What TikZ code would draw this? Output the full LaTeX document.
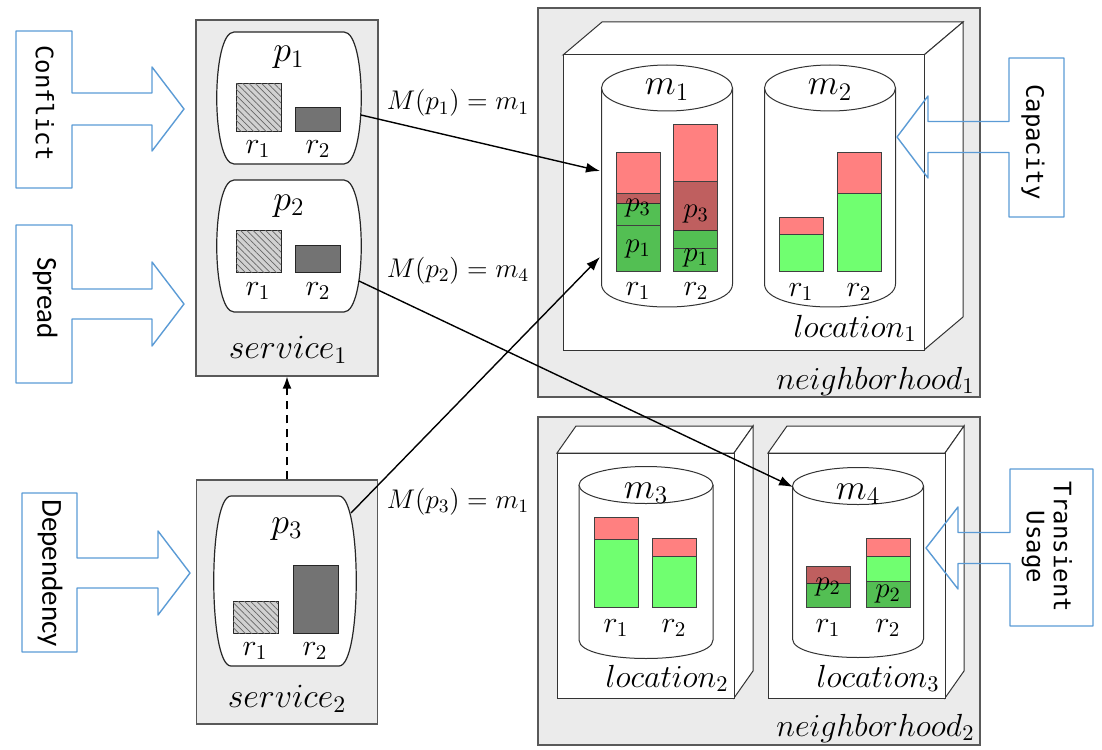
\documentclass[tikz,border=0pt]{standalone}
\usepackage{fix-cm}
\usepackage{fontspec}
\newfontfamily\hintmono{DejaVu Sans Mono}
\newfontfamily\hintsans{Carlito}
\usetikzlibrary{arrows.meta,patterns.meta}

\definecolor{hintblue}{RGB}{91,155,213}
\definecolor{freegreen}{RGB}{112,255,112}
\definecolor{sparered}{RGB}{255,128,128}

\tikzset{
  grpbox/.style={draw=black!65, fill=black!8, line width=0.6pt, inner sep=0pt},
  facebox/.style={draw=black!80, fill=white, line width=0.5pt},
  podbox/.style={draw=black!85, fill=white, line width=0.6pt},
  cylbody/.style={draw=black!80, fill=white, line width=0.5pt},
  hintbox/.style={draw=hintblue, line width=0.7pt, line join=round},
  monotext/.style={font=\hintmono\fontsize{12}{13.5}\selectfont, rotate=-90, align=center},
  sanstext/.style={font=\hintsans\fontsize{14.5}{16}\selectfont, rotate=-90},
  hatched/.style={fill=black!18, draw=black!85, line width=0.5pt,
    postaction={pattern={Lines[angle=-45,distance=2.2pt,line width=0.35pt]}, pattern color=black!60}},
  solidres/.style={fill=black!55, draw=black!85, line width=0.5pt},
  freepart/.style={fill=freegreen, draw=black!75, line width=0.5pt},
  sparepart/.style={fill=sparered, draw=black!75, line width=0.5pt},
  podpart/.style={fill=black, fill opacity=0.25, draw=black!75, draw opacity=1, line width=0.5pt},
  plabel/.style={font=\fontsize{18}{20}\selectfont, inner sep=0pt, anchor=base},
  mlabel/.style={font=\fontsize{18}{20}\selectfont, inner sep=0pt, anchor=base},
  rlabel/.style={font=\fontsize{15}{17}\selectfont, inner sep=0pt, anchor=base},
  inlabel/.style={font=\fontsize{14.5}{16}\selectfont, inner sep=0pt},
  svclabel/.style={font=\fontsize{17}{19}\selectfont, inner sep=0pt, anchor=base},
  loclabel/.style={font=\fontsize{16}{18}\selectfont, inner sep=0pt, anchor=base east},
  nblabel/.style={font=\fontsize{16}{18}\selectfont, inner sep=0pt, anchor=base east},
  maplabel/.style={font=\fontsize{13.5}{15}\selectfont, inner sep=0pt, anchor=base},
  map/.style={-{Latex[length=7pt,width=5pt]}, line width=0.7pt},
  dep/.style={-{Latex[length=6pt,width=4.5pt]}, line width=0.7pt, dash pattern=on 4pt off 3pt},
}

% box x0, box x1, box top, box bottom, tip y, shaft half, head half, head base x, tip x
\newcommand{\hintarrow}[9]{%
  \draw[hintbox] (#1,#3) -- (#2,#3) -- (#2,#5-#6) -- (#8,#5-#6) -- (#8,#5-#7) -- (#9,#5)
    -- (#8,#5+#7) -- (#8,#5+#6) -- (#2,#5+#6) -- (#2,#4) -- (#1,#4) -- cycle;}
% x0, x1, y0, y1
\newcommand{\podshape}[4]{%
  \draw[podbox] (#1+18,#3) -- (#2-18,#3) .. controls (#2+5,#3) and (#2+5,#4) .. (#2-18,#4)
    -- (#1+18,#4) .. controls (#1-5,#4) and (#1-5,#3) .. cycle;}
% front x0, y0, x1, y1, depth dx, dy
\newcommand{\locbox}[6]{%
  \draw[facebox] (#1,#2) -- (#1+#5,#2-#6) -- (#3+#5,#2-#6) -- (#3,#2) -- cycle;
  \draw[facebox] (#3,#2) -- (#3+#5,#2-#6) -- (#3+#5,#4-#6) -- (#3,#4) -- cycle;
  \draw[facebox] (#1,#2) rectangle (#3,#4);}
% centre x, x radius, top y, bottom y, y radius
\newcommand{\drawcyl}[5]{%
  \draw[cylbody] (#1-#2,#3) -- (#1-#2,#4) .. controls (#1-#2,#4+1.333*#5) and (#1+#2,#4+1.333*#5) .. (#1+#2,#4) -- (#1+#2,#3);
  \draw[cylbody] (#1,#3) ellipse [x radius=#2, y radius=#5];}
% x, spare top, split, bottom
\newcommand{\resbar}[4]{%
  \draw[sparepart] (#1,#2) rectangle (#1+44,#3);
  \draw[freepart] (#1,#3) rectangle (#1+44,#4);}
\newcommand{\podpart}[3]{\draw[podpart] (#1,#2) rectangle (#1+44,#3);}

\begin{document}
\begin{tikzpicture}[x=0.5pt, y=-0.5pt]
\useasboundingbox (0,0) rectangle (1102,749);

% services
\node[grpbox, minimum width=91pt, minimum height=178pt] (svc1) at (287,198) {};
\node[grpbox, minimum width=90.5pt, minimum height=122pt] (svc2) at (287,602) {};
\podshape{216}{362}{32}{164}
\podshape{216}{362}{180}{312}
\podshape{213}{357}{496}{666}
\node[plabel] (p1) at (289,62) {$p_1$};
\node[plabel] (p2) at (289,210) {$p_2$};
\node[plabel] (p3) at (287,533) {$p_3$};
\draw[hatched] (236,84) rectangle (281,131);
\draw[solidres] (295,108) rectangle (340,131);
\draw[hatched] (236,230) rectangle (281,272);
\draw[solidres] (295,245) rectangle (340,272);
\draw[hatched] (233,601) rectangle (278,633);
\draw[solidres] (293,565) rectangle (338,633);
\node[rlabel] (p1r1) at (258,153) {$r_1$};
\node[rlabel] (p1r2) at (318,153) {$r_2$};
\node[rlabel] (p2r1) at (258,295) {$r_1$};
\node[rlabel] (p2r2) at (318,295) {$r_2$};
\node[rlabel] (p3r1) at (255,655) {$r_1$};
\node[rlabel] (p3r2) at (315,655) {$r_2$};
\node[svclabel] (svc1lbl) at (288,358) {$service_1$};
\node[svclabel] (svc2lbl) at (287,707) {$service_2$};

% neighborhoods and locations
\node[grpbox, minimum width=221pt, minimum height=194.5pt] (nb1) at (759,202.5) {};
\node[grpbox, minimum width=221pt, minimum height=164pt] (nb2) at (759,581) {};
\locbox{563}{55}{924}{350}{39}{33}
\locbox{557}{453}{734}{698}{19}{27}
\locbox{768}{453}{945}{698}{19}{27}
\node[nblabel] (nb1lbl) at (975,389) {$neighborhood_1$};
\node[nblabel] (nb2lbl) at (975,736) {$neighborhood_2$};
\node[loclabel] (loc1lbl) at (917,337) {$location_1$};
\node[loclabel] (loc2lbl) at (729,687) {$location_2$};
\node[loclabel] (loc3lbl) at (940,687) {$location_3$};

% machines
\drawcyl{667}{65.5}{88}{284}{23}
\drawcyl{830}{65.5}{88}{284}{23}
\drawcyl{646}{67}{485}{640}{18.5}
\drawcyl{858}{65.5}{486}{639}{18.5}
\node[mlabel] (m1) at (667,95) {$m_1$};
\node[mlabel] (m2) at (830,95) {$m_2$};
\node[mlabel] (m3) at (646,498) {$m_3$};
\node[mlabel] (m4) at (858,499) {$m_4$};

\resbar{616}{152}{203}{271}
\resbar{673}{125}{230}{271}
\podpart{616}{193}{225}
\podpart{616}{225}{271}
\podpart{673}{181}{248}
\podpart{673}{248}{271}
\node[inlabel] (m1p3a) at (638,208) {$p_3$};
\node[inlabel] (m1p1a) at (638,249) {$p_1$};
\node[inlabel] (m1p3b) at (696,214) {$p_3$};
\node[inlabel] (m1p1b) at (696,258) {$p_1$};
\resbar{779}{217}{234}{271}
\resbar{837}{152}{193}{271}
\resbar{594}{517}{539}{607}
\resbar{652}{538}{556}{607}
\resbar{806}{566}{583}{607}
\resbar{866}{538}{556}{607}
\podpart{806}{566}{607}
\podpart{866}{581}{607}
\node[inlabel] (m4p2a) at (828,587) {$p_2$};
\node[inlabel] (m4p2b) at (888,594) {$p_2$};

\node[rlabel] (m1r1) at (638,295) {$r_1$};
\node[rlabel] (m1r2) at (696,295) {$r_2$};
\node[rlabel] (m2r1) at (801,296) {$r_1$};
\node[rlabel] (m2r2) at (859,296) {$r_2$};
\node[rlabel] (m3r1) at (616,632) {$r_1$};
\node[rlabel] (m3r2) at (674,632) {$r_2$};
\node[rlabel] (m4r1) at (828,632) {$r_1$};
\node[rlabel] (m4r2) at (888,632) {$r_2$};

% constraint hints
\hintarrow{16}{72}{31}{188}{109}{16}{42}{152}{184}
\hintarrow{16}{72}{225}{383}{304}{15}{42}{152}{184}
\hintarrow{22}{77}{493}{652}{573}{15}{42}{158}{190}
\hintarrow{1064}{1009}{58}{217}{137}{15.5}{41}{928}{897}
\hintarrow{1093}{1010}{469}{626}{548}{15.5}{41}{958}{926}
\node[monotext] (conflict) at (45,103) {Conflict};
\node[sanstext] (spread) at (45,298) {Spread};
\node[sanstext] (dependency) at (50,573) {Dependency};
\node[monotext] (capacity) at (1033,142) {Capacity};
\node[monotext] (transient) at (1047,547) {Transient\\Usage};

% placements
\coordinate (p1out) at (361,115);
\coordinate (p2out) at (359,281);
\coordinate (p3out) at (351,513);
\coordinate (m1in) at (600,171);
\coordinate (m1low) at (600,257);
\coordinate (m4in) at (793,487);
\draw[map] (p1out) -- (m1in);
\draw[map] (p2out) -- (m4in);
\draw[map] (p3out) -- (m1low);
\node[maplabel] (map1) at (458,110) {$M(p_1) = m_1$};
\node[maplabel] (map2) at (458,277) {$M(p_2) = m_4$};
\node[maplabel] (map3) at (458,508) {$M(p_3) = m_1$};
\draw[dep] (svc2.north) -- (svc1.south);
\end{tikzpicture}
\end{document}
